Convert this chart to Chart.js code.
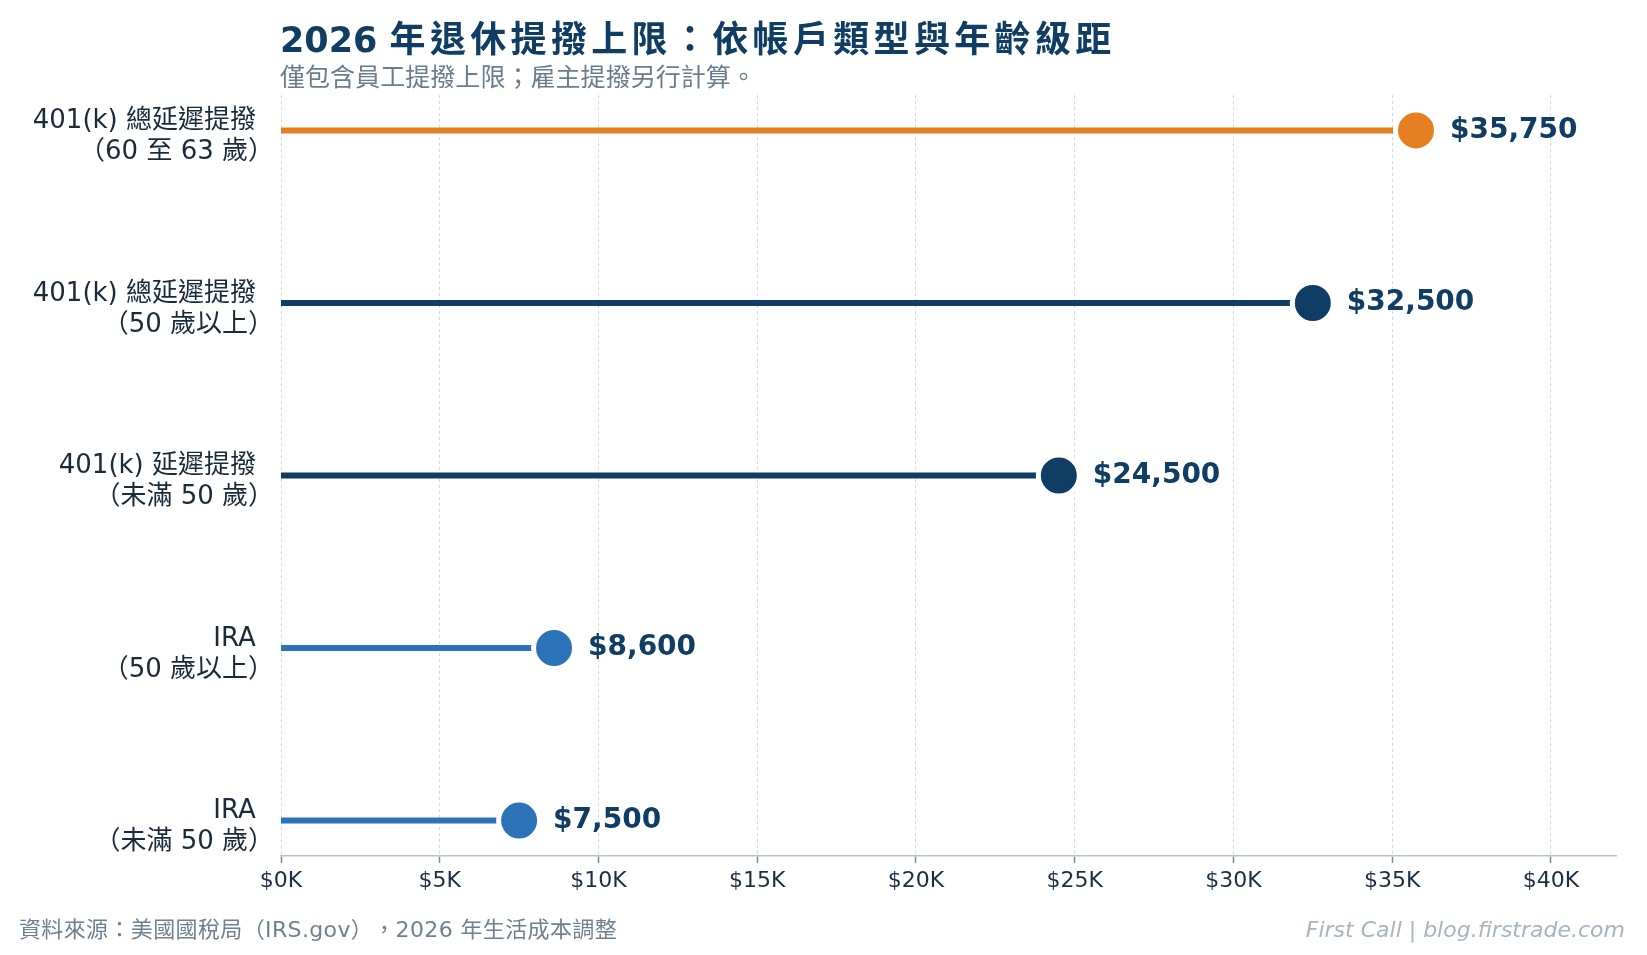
<!DOCTYPE html>
<html lang="zh-Hant">
<head>
<meta charset="utf-8">
<title>2026 年退休提撥上限</title>
<script src="https://cdn.jsdelivr.net/npm/chart.js@4.4.1/dist/chart.umd.min.js"></script>
<style>
  html, body { margin: 0; padding: 0; background: #ffffff; }
  body { width: 1647px; height: 955px; position: relative; overflow: hidden;
         font-family: "DejaVu Sans", "Noto Sans CJK TC", sans-serif;
         text-spacing-trim: space-all; }
  #chartBox { position: absolute; left: 0; top: 0; width: 1647px; height: 955px; }
  .title { position: absolute; left: 280px; top: 18px; font-size: 36px; line-height: 44px;
           font-weight: bold; color: #0f3d63; white-space: nowrap; }
  .title .num { font-size: 35px; }
  .subtitle { position: absolute; left: 280px; top: 63px; font-size: 25px; line-height: 30px;
              color: #6b7c8d; white-space: nowrap; }
  .source { position: absolute; left: 19px; top: 917px; font-size: 22px; line-height: 26px;
            color: #6f8091; white-space: nowrap; }
  .brand { position: absolute; right: 22px; top: 917px; font-size: 22px; line-height: 26px;
           font-style: italic; color: #a7b4c2; white-space: nowrap; }
</style>
</head>
<body>
<div id="chartBox"><canvas id="limitChart"></canvas></div>
<div class="title" id="title"><span class="num">2026 </span><span class="cjk">年退休提撥上限：依帳戶類型與年齡級距</span></div>
<div class="subtitle" id="subtitle">僅包含員工提撥上限；雇主提撥另行計算。</div>
<div class="source" id="source">資料來源：美國國稅局（IRS.gov），2026 年生活成本調整</div>
<div class="brand">First Call | blog.firstrade.com</div>

<script>
// Kategorien (oben nach unten)
const categories = [
  ["401(k) 總延遲提撥", "（60 至 63 歲）"],
  ["401(k) 總延遲提撥", "（50 歲以上）"],
  ["401(k) 延遲提撥", "（未滿 50 歲）"],
  ["IRA", "（50 歲以上）"],
  ["IRA", "（未滿 50 歲）"]
];
const limits = [35750, 32500, 24500, 8600, 7500];
const valueLabels = ["$35,750", "$32,500", "$24,500", "$8,600", "$7,500"];
const xTickValues = [0, 5000, 10000, 15000, 20000, 25000, 30000, 35000, 40000];
const xTickLabels = ["$0K", "$5K", "$10K", "$15K", "$20K", "$25K", "$30K", "$35K", "$40K"];

const rowColors = ["#e67e22", "#0f3d63", "#0f3d63", "#2c72b8", "#2c72b8"];
const fontFamily = "'DejaVu Sans', 'Noto Sans CJK TC', sans-serif";

// Textbreite an Vorlage anpassen
function fitWidth(el, target) {
  const w = el.getBoundingClientRect().width;
  const n = el.textContent.length;
  if (w < target && n > 1) {
    el.style.letterSpacing = ((target - w) / n).toFixed(2) + "px";
  }
}
fitWidth(document.querySelector("#title .cjk"), 726);
fitWidth(document.getElementById("subtitle"), 476);
fitWidth(document.getElementById("source"), 598);

// Stiele
const stemDatasets = limits.map((v, i) => {
  return {
    type: "line",
    data: [{ x: 0, y: i }, { x: v, y: i }],
    borderColor: rowColors[i],
    borderWidth: 6,
    borderCapStyle: "butt",
    pointRadius: 0,
    pointHoverRadius: 0,
    order: 2
  };
});

// Punkte
const dotDataset = {
  type: "scatter",
  data: limits.map((v, i) => ({ x: v, y: i })),
  backgroundColor: rowColors,
  borderColor: "#ffffff",
  borderWidth: 5,
  pointRadius: 20.5,
  pointHoverRadius: 20.5,
  order: 1
};

// Wertbeschriftungen
const valueLabelPlugin = {
  id: "valueLabels",
  afterDatasetsDraw(chart) {
    const meta = chart.getDatasetMeta(chart.data.datasets.length - 1);
    const ctx = chart.ctx;
    ctx.save();
    ctx.font = "bold 28px " + fontFamily;
    ctx.fillStyle = "#0f3d63";
    ctx.textAlign = "left";
    ctx.textBaseline = "middle";
    meta.data.forEach((pt, i) => {
      ctx.fillText(valueLabels[i], pt.x + 34, pt.y);
    });
    ctx.restore();
  }
};

// Kategoriebeschriftungen, rechtsbündig an der Tinte
const categoryLabelPlugin = {
  id: "categoryLabels",
  afterDraw(chart) {
    const ctx = chart.ctx;
    const yScale = chart.scales.y;
    const right = chart.chartArea.left - 25;
    ctx.save();
    ctx.font = "26px " + fontFamily;
    ctx.fillStyle = "#1a2a3a";
    ctx.textAlign = "left";
    ctx.textBaseline = "middle";
    categories.forEach((lines, i) => {
      const y = yScale.getPixelForValue(i);
      lines.forEach((line, j) => {
        const m = ctx.measureText(line);
        ctx.fillText(line, right - m.actualBoundingBoxRight, y - 9 + j * 31);
      });
    });
    ctx.restore();
  }
};

new Chart(document.getElementById("limitChart"), {
  data: {
    datasets: [...stemDatasets, dotDataset]
  },
  options: {
    responsive: true,
    maintainAspectRatio: false,
    animation: false,
    layout: {
      padding: { top: 95, right: 31, bottom: 0, left: 0 }
    },
    plugins: {
      legend: { display: false },
      tooltip: { enabled: false }
    },
    scales: {
      x: {
        type: "linear",
        min: 0,
        max: 42050,
        afterBuildTicks: (scale) => {
          scale.ticks = xTickValues.map(v => ({ value: v }));
        },
        afterFit: (scale) => {
          scale.height = 99;
        },
        ticks: {
          callback: (value) => {
            const idx = xTickValues.indexOf(value);
            return idx >= 0 ? xTickLabels[idx] : "";
          },
          color: "#1c2e40",
          font: { family: fontFamily, size: 22 },
          padding: 5,
          maxRotation: 0
        },
        grid: {
          color: "#cfd9e3",
          lineWidth: 1,
          drawTicks: true,
          tickLength: 7,
          tickColor: "#7d8c9b",
          tickWidth: 1.5,
          tickBorderDash: []
        },
        border: {
          display: true,
          color: "#b3c1cf",
          width: 1.5,
          dash: [3, 3]
        }
      },
      y: {
        type: "linear",
        reverse: true,
        min: -0.205,
        max: 4.205,
        afterBuildTicks: (scale) => {
          scale.ticks = categories.map((c, i) => ({ value: i }));
        },
        afterFit: (scale) => {
          scale.width = 281;
        },
        ticks: { display: false },
        grid: { display: false, drawTicks: false },
        border: { display: false }
      }
    }
  },
  plugins: [valueLabelPlugin, categoryLabelPlugin]
});
</script>
</body>
</html>
